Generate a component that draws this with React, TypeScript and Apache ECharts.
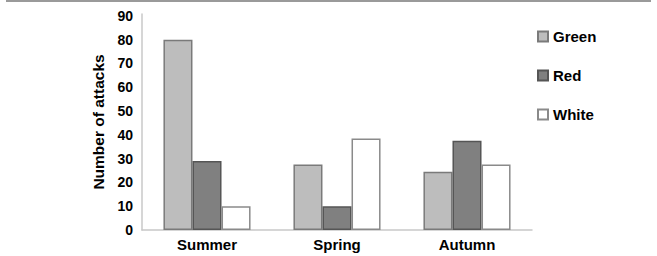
import React, { useEffect, useRef } from "react";
import * as echarts from "echarts";

const categories = ["Summer", "Spring", "Autumn"];
const seriesNames = ["Green", "Red", "White"];
const greenValues = [80, 27.5, 24.5];
const redValues = [29, 10, 37.5];
const whiteValues = [10, 38.5, 27.5];
const yTickLabels = [0, 10, 20, 30, 40, 50, 60, 70, 80, 90];

const FONT = "'Liberation Sans', Arial, sans-serif";

export default function App() {
  const ref = useRef<HTMLDivElement>(null);
  useEffect(() => {
    document.body.style.margin = "0";
    const chart = echarts.init(ref.current!, null, { renderer: "svg" });
    const fills = ["#bdbdbd", "#808080", "#ffffff"];
    const borders = ["#7a7a7a", "#555555", "#8a8a8a"];
    const values = [greenValues, redValues, whiteValues];
    chart.setOption({
      animation: false,
      backgroundColor: "#ffffff",
      textStyle: { fontFamily: FONT },
      graphic: [
        {
          type: "line",
          shape: { x1: 6, y1: 1, x2: 651, y2: 1 },
          style: { stroke: "#9a9a9a", lineWidth: 2 },
        },
      ],
      legend: {
        orient: "vertical",
        left: 537,
        top: 29,
        padding: 0,
        itemWidth: 10,
        itemHeight: 10,
        itemGap: 24,
        icon: "rect",
        textStyle: { fontFamily: FONT, fontWeight: "bold", fontSize: 15, color: "#000" },
        data: seriesNames,
      },
      grid: { left: 142, right: 125, top: 14, bottom: 26, containLabel: false },
      xAxis: {
        type: "category",
        data: categories,
        axisLine: { lineStyle: { color: "#c8c8c8", width: 1.5 } },
        axisTick: { show: false },
        axisLabel: {
          fontFamily: FONT,
          fontWeight: "bold",
          fontSize: 15,
          color: "#000",
          margin: 7,
        },
      },
      yAxis: {
        type: "value",
        min: 0,
        max: 90.8,
        name: "Number of attacks",
        nameLocation: "middle",
        nameRotate: 90,
        nameGap: 34,
        nameTextStyle: { fontFamily: FONT, fontWeight: "bold", fontSize: 15.5, color: "#000" },
        axisLine: { show: true, lineStyle: { color: "#c8c8c8", width: 1.5 } },
        axisTick: { show: false },
        splitLine: { show: false },
        axisLabel: {
          fontFamily: FONT,
          fontWeight: "bold",
          fontSize: 14,
          color: "#000",
          margin: 9,
          customValues: yTickLabels,
        },
      },
      series: seriesNames.map((name, i) => ({
        name,
        type: "bar",
        data: values[i],
        barGap: "0%",
        barCategoryGap: "33%",
        itemStyle: { color: fills[i], borderColor: borders[i], borderWidth: 1.5 },
      })),
    });
    return () => chart.dispose();
  }, []);
  return <div ref={ref} style={{ width: 657, height: 256 }} />;
}
